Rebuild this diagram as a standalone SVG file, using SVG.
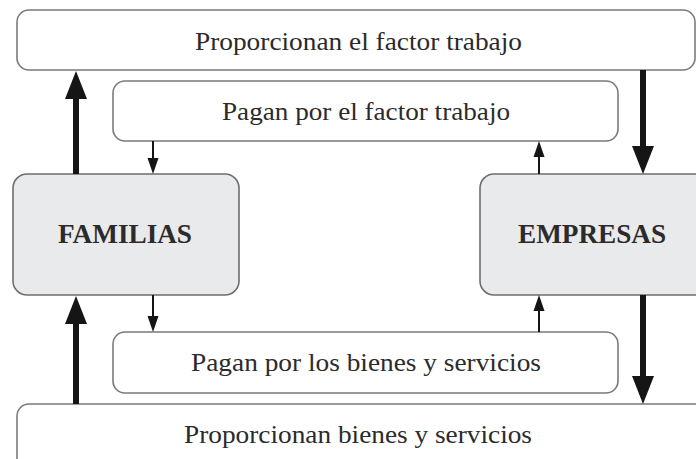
<svg xmlns="http://www.w3.org/2000/svg" width="696" height="459" viewBox="0 0 696 459">
<style>
.box{fill:#ffffff;stroke:#7a7a7a;stroke-width:1.6}
.agent{fill:#e9eaec;stroke:#6e6e6e;stroke-width:1.6}
.lbl{font-family:"Liberation Serif","Times New Roman",serif;font-size:24.5px;fill:#2b2b2b;text-anchor:middle}
.big{font-family:"Liberation Serif","Times New Roman",serif;font-size:27px;font-weight:bold;fill:#2b2b2b;text-anchor:middle}
.thick{stroke:#151515;stroke-width:6;fill:none;marker-end:url(#hThick)}
.thin{stroke:#151515;stroke-width:2;fill:none;marker-end:url(#hThin)}
</style>
<defs>
<marker id="hThick" markerUnits="userSpaceOnUse" markerWidth="28" markerHeight="22" refX="4" refY="11" orient="auto" overflow="visible">
<path d="M0,0 L28,11 L0,22 Z" fill="#151515"/>
</marker>
<marker id="hThin" markerUnits="userSpaceOnUse" markerWidth="16" markerHeight="11" refX="4" refY="5.5" orient="auto" overflow="visible">
<path d="M0,0 L16,5.5 L0,11 Z" fill="#151515"/>
</marker>
</defs>
<rect width="696" height="459" fill="#ffffff"/>
<g id="proporcionan-trabajo">
<rect class="box" x="17" y="10" width="678" height="60" rx="12"/>
<text class="lbl" x="358.5" y="50" textLength="327" lengthAdjust="spacingAndGlyphs">Proporcionan el factor trabajo</text>
</g>
<g id="pagan-trabajo">
<rect class="box" x="113" y="81" width="505" height="60" rx="12"/>
<text class="lbl" x="366" y="120" textLength="288" lengthAdjust="spacingAndGlyphs">Pagan por el factor trabajo</text>
</g>
<g id="familias">
<rect class="agent" x="13" y="174" width="226" height="121" rx="14"/>
<text class="big" x="125" y="243" textLength="134" lengthAdjust="spacingAndGlyphs">FAMILIAS</text>
</g>
<g id="empresas">
<rect class="agent" x="480" y="174" width="240" height="121" rx="14"/>
<text class="big" x="592" y="243" textLength="148" lengthAdjust="spacingAndGlyphs">EMPRESAS</text>
</g>
<g id="pagan-bienes">
<rect class="box" x="113" y="332" width="505" height="61" rx="12"/>
<text class="lbl" x="366" y="371" textLength="350" lengthAdjust="spacingAndGlyphs">Pagan por los bienes y servicios</text>
</g>
<g id="proporcionan-bienes">
<rect class="box" x="17" y="404" width="690" height="70" rx="12"/>
<text class="lbl" x="358" y="443" textLength="348" lengthAdjust="spacingAndGlyphs">Proporcionan bienes y servicios</text>
</g>
<g id="connectors">
<line class="thick" x1="76" y1="174" x2="76" y2="95"/>
<line class="thin" x1="153" y1="141" x2="153" y2="162"/>
<line class="thin" x1="539" y1="174" x2="539" y2="153"/>
<line class="thick" x1="643" y1="70" x2="643" y2="150"/>
<line class="thick" x1="76" y1="404" x2="76" y2="320"/>
<line class="thin" x1="153" y1="295" x2="153" y2="320"/>
<line class="thin" x1="539" y1="332" x2="539" y2="307"/>
<line class="thick" x1="643" y1="295" x2="643" y2="380"/>
</g>
</svg>
